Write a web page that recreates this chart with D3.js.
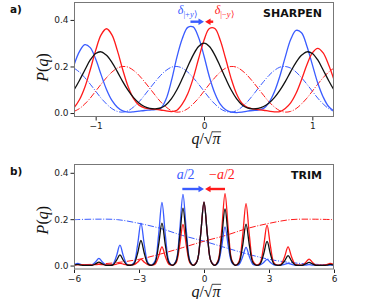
<!DOCTYPE html>
<meta charset="utf-8">
<style>
body { margin: 0; background: #fff; }
.tick text { font-family: "DejaVu Sans", sans-serif; font-size: 9px; fill: #222; }
.tick line { stroke: #222; }
.domain { display: none; }
.frame { fill: none; stroke: #777; stroke-width: 1; }
.lbl { font-family: "Liberation Serif", serif; font-size: 16px; }
.title { font-family: "DejaVu Sans", sans-serif; font-weight: bold; font-size: 11px; fill: #111; }
.panel { font-family: "DejaVu Sans", sans-serif; font-weight: bold; font-size: 10.5px; fill: #111; }
</style>
<body></body>
<script src="https://d3js.org/d3.v7.min.js"></script>
<script>
// panel a (SHARPEN)
var qA = [-1.2,-1.15,-1.1,-1.05,-1.0,-0.95,-0.9,-0.85,-0.8,-0.75,-0.7,-0.65,-0.6,-0.55,-0.5,-0.45,-0.4,-0.35,-0.3,-0.25,-0.2,-0.15,-0.1,-0.05,0,
  0.05,0.1,0.15,0.2,0.25,0.3,0.35,0.4,0.45,0.5,0.55,0.6,0.65,0.7,0.75,0.8,0.85,0.9,0.95,1.0,1.05,1.1,1.15,1.2];
var blackA = [0.099,0.14,0.185,0.228,0.256,0.263,0.248,0.218,0.178,0.135,0.097,0.066,0.043,0.028,0.02,0.018,0.022,0.036,0.062,0.1,0.148,0.2,0.249,0.286,0.3,
  0.286,0.249,0.2,0.148,0.1,0.062,0.036,0.022,0.018,0.02,0.028,0.043,0.066,0.097,0.135,0.178,0.218,0.248,0.263,0.256,0.228,0.185,0.14,0.099];
var blueA = [0.206,0.264,0.294,0.281,0.232,0.165,0.101,0.054,0.025,0.009,0.004,0.005,0.008,0.011,0.013,0.015,0.02,0.06,0.14,0.24,0.32,0.368,0.37,0.325,0.245,
  0.155,0.085,0.038,0.014,0.004,0.002,0.004,0.008,0.011,0.013,0.02,0.045,0.091,0.158,0.24,0.316,0.355,0.345,0.287,0.208,0.129,0.069,0.028,0.009];
var redA = [0.022,0.057,0.111,0.186,0.269,0.336,0.362,0.336,0.269,0.186,0.113,0.062,0.034,0.022,0.018,0.016,0.013,0.009,0.006,0.012,0.039,0.083,0.149,0.233,0.313,
  0.363,0.363,0.313,0.233,0.149,0.083,0.042,0.024,0.018,0.015,0.012,0.008,0.005,0.006,0.02,0.044,0.085,0.143,0.207,0.258,0.278,0.258,0.207,0.143];
var blueDashA = [0.193,0.176,0.152,0.124,0.094,0.064,0.039,0.019,0.007,0.004,0.01,0.026,0.048,0.076,0.106,0.135,0.162,0.183,0.197,0.2,0.193,0.176,0.152,0.124,0.094,
  0.064,0.039,0.019,0.007,0.004,0.01,0.026,0.048,0.076,0.106,0.135,0.162,0.183,0.197,0.2,0.193,0.176,0.152,0.124,0.094,0.064,0.039,0.019,0.007];
var redDashA = [0.007,0.019,0.039,0.064,0.094,0.124,0.152,0.176,0.193,0.2,0.197,0.183,0.162,0.135,0.106,0.076,0.048,0.026,0.01,0.004,0.007,0.019,0.039,0.064,0.094,
  0.124,0.152,0.176,0.193,0.2,0.197,0.183,0.162,0.135,0.106,0.076,0.048,0.026,0.01,0.004,0.007,0.019,0.039,0.064,0.094,0.124,0.152,0.176,0.193];

// panel b (TRIM)
var qB = [-6,-5.82,-5.66,-5.50,-5.34,-5.17,-5.01,-4.85,-4.69,-4.53,-4.37,-4.20,-4.04,-3.88,-3.72,-3.56,-3.40,-3.23,-3.07,-2.91,-2.75,-2.59,-2.43,-2.26,-2.10,
  -1.94,-1.78,-1.62,-1.46,-1.29,-1.13,-0.97,-0.81,-0.65,-0.49,-0.32,-0.16,0,0.16,0.32,0.49,0.65,0.81,0.97,1.13,1.29,1.46,1.62,1.78,1.94,
  2.10,2.26,2.43,2.59,2.75,2.91,3.07,3.23,3.40,3.56,3.72,3.88,4.04,4.20,4.37,4.53,4.69,4.85,5.01,5.17,5.34,5.50,5.66,5.82,6];
var blackB = [0.002,0.005,0.002,0.001,0.001,
  0.001,0.007,0.015,0.007,0.001,0.001,
  0.003,0.022,0.046,0.022,0.003,0.001,
  0.008,0.051,0.108,0.051,0.008,0.001,
  0.013,0.086,0.183,0.086,0.013,0.001,
  0.017,0.117,0.248,0.117,0.017,0.001,
  0.019,0.129,0.274,0.129,0.019,0.001,
  0.017,0.115,0.244,0.115,0.017,0.001,
  0.013,0.084,0.179,0.084,0.013,0.001,
  0.007,0.049,0.104,0.049,0.007,0.001,
  0.003,0.02,0.043,0.02,0.003,0.001,
  0.001,0.007,0.014,0.007,0.001,0.001,
  0.001,0.002,0.005,0.002];
var blueB = [0.004,0.009,0.004,0.002,0.002,
  0.003,0.015,0.031,0.015,0.003,0.002,
  0.006,0.041,0.088,0.041,0.006,0.002,
  0.013,0.086,0.183,0.086,0.013,0.002,
  0.019,0.128,0.272,0.128,0.019,0.002,
  0.021,0.144,0.307,0.144,0.021,0.002,
  0.019,0.129,0.274,0.129,0.019,0.002,
  0.012,0.078,0.167,0.078,0.012,0.002,
  0.005,0.037,0.078,0.037,0.005,0.002,
  0.003,0.013,0.027,0.013,0.003,0.002,
  0.002,0.005,0.01,0.005,0.002,0.002,
  0.002,0.002,0.004,0.002,0.002,0.002,
  0.002,0.002,0.002,0.002];
var redB = [0.004,0.004,0.004,0.003,0.003,
  0.003,0.004,0.005,0.004,0.003,0.003,
  0.003,0.006,0.01,0.006,0.003,0.003,
  0.004,0.014,0.027,0.014,0.004,0.002,
  0.006,0.038,0.081,0.038,0.006,0.002,
  0.012,0.083,0.177,0.083,0.012,0.002,
  0.019,0.129,0.274,0.129,0.019,0.002,
  0.022,0.146,0.31,0.146,0.022,0.002,
  0.019,0.125,0.267,0.125,0.019,0.002,
  0.012,0.082,0.174,0.082,0.012,0.002,
  0.006,0.038,0.081,0.038,0.006,0.002,
  0.002,0.013,0.028,0.013,0.002,0.002,
  0.002,0.004,0.009,0.004];
var qBd = [-6,-5,-4,-3,-2,-1,0,1,2,3,4,5,6];
var blueDashB = [0.198,0.2,0.198,0.182,0.16,0.13,0.105,0.077,0.05,0.027,0.013,0.006,0.003];
var redDashB = [0.003,0.006,0.013,0.027,0.05,0.077,0.105,0.13,0.16,0.182,0.198,0.2,0.198];

var xTicksA = [-1, 0, 1];
var xTicksB = [-6, -3, 0, 3, 6];
var yTicks = [0, 0.2, 0.4];

var BLUE = "#3a5cff", RED = "#ff1a1a", BLACK = "#111";

var svg = d3.select("body").append("svg")
  .attr("width", 378)
  .attr("height", 299);

function panel(opt) {
  var x = d3.scaleLinear().domain(opt.xdom).range([74, 334]);
  var y = d3.scaleLinear().domain(opt.ydom).range([opt.bottom, opt.top]);
  var g = svg.append("g");

  g.append("clipPath").attr("id", opt.id)
    .append("rect")
      .attr("x", 74).attr("y", opt.top)
      .attr("width", 260).attr("height", opt.bottom - opt.top);

  var plot = g.append("g").attr("clip-path", "url(#" + opt.id + ")");
  var line = d3.line().curve(opt.curve)
    .x(function(d) { return x(d[0]); })
    .y(function(d) { return y(d[1]); });

  opt.series.forEach(function(s) {
    plot.append("path")
      .datum(d3.zip(s.q, s.v))
      .attr("d", line)
      .attr("fill", "none")
      .attr("stroke", s.color)
      .attr("stroke-width", s.dash ? 1 : 1.3)
      .attr("stroke-dasharray", s.dash ? "6.4,1.6,1,1.6" : null);
  });

  g.append("g")
    .attr("transform", "translate(0," + opt.bottom + ")")
    .call(d3.axisBottom(x).tickValues(opt.xticks).tickSize(3.5).tickPadding(2.5).tickFormat(d3.format("d")));
  g.append("g")
    .attr("transform", "translate(74,0)")
    .call(d3.axisLeft(y).tickValues(yTicks).tickSize(3.5).tickPadding(2).tickFormat(d3.format(".1f")));

  g.append("rect").attr("class", "frame")
    .attr("x", 74.5).attr("y", opt.top + 0.5)
    .attr("width", 259).attr("height", opt.bottom - opt.top - 1);

  // y label P(q)
  var yl = g.append("text").attr("class", "lbl").style("fill", "#111")
    .attr("text-anchor", "middle")
    .attr("transform", "translate(48," + (y(0.2) + 1) + ") rotate(-90)");
  yl.append("tspan").style("font-style", "italic").text("P");
  yl.append("tspan").text("(");
  yl.append("tspan").style("font-style", "italic").text("q");
  yl.append("tspan").text(")");

  // x label q/sqrt(pi)
  var xl = g.append("text").attr("class", "lbl").style("fill", "#111")
    .attr("x", x(0) + 2).attr("y", opt.bottom + 27)
    .attr("text-anchor", "middle");
  xl.append("tspan").style("font-style", "italic").text("q");
  xl.append("tspan").text("/√");
  xl.append("tspan").style("font-style", "italic").text("π");
  var e = xl.node().getExtentOfChar(3);
  g.append("line")
    .attr("x1", e.x - 0.5).attr("x2", e.x + e.width + 0.5)
    .attr("y1", opt.bottom + 27 - 12.2).attr("y2", opt.bottom + 27 - 12.2)
    .attr("stroke", "#111").attr("stroke-width", 0.8);

  g.append("text").attr("class", "title")
    .attr("x", 322).attr("y", opt.top + 15)
    .attr("text-anchor", "end")
    .text(opt.title);

  g.append("text").attr("class", "panel")
    .attr("x", 10).attr("y", opt.top + 10.5)
    .text(opt.letter);

  // arrows
  opt.arrows.forEach(function(a) {
    var x0 = x(a.from), x1 = x(a.to), yy = opt.top + a.dy;
    var dir = x1 > x0 ? 1 : -1;
    g.append("line")
      .attr("x1", x0).attr("x2", x1 - dir * 4)
      .attr("y1", yy).attr("y2", yy)
      .attr("stroke", a.color).attr("stroke-width", 2.4);
    g.append("path")
      .attr("d", "M" + x1 + "," + yy + "L" + (x1 - dir * 5.5) + "," + (yy - 3.2) + "L" + (x1 - dir * 5.5) + "," + (yy + 3.2) + "Z")
      .attr("fill", a.color);
  });

  return { x: x, y: y, g: g };
}

var pa = panel({
  id: "clipA", xdom: [-1.2, 1.2], ydom: [-0.017, 0.477], top: 2, bottom: 117,
  xticks: xTicksA, title: "SHARPEN", letter: "a)", curve: d3.curveCatmullRom,
  series: [
    { q: qA, v: blueDashA, color: BLUE, dash: true },
    { q: qA, v: redDashA, color: RED, dash: true },
    { q: qA, v: blueA, color: BLUE },
    { q: qA, v: redA, color: RED },
    { q: qA, v: blackA, color: BLACK }
  ],
  arrows: [
    { from: -0.125, to: 0, color: BLUE, dy: 19.7 },
    { from: 0.085, to: 0.01, color: RED, dy: 19.7 }
  ]
});

var pb = panel({
  id: "clipB", xdom: [-6, 6], ydom: [-0.017, 0.438], top: 164, bottom: 269.5,
  xticks: xTicksB, title: "TRIM", letter: "b)", curve: d3.curveCatmullRom,
  series: [
    { q: qBd, v: blueDashB, color: BLUE, dash: true },
    { q: qBd, v: redDashB, color: RED, dash: true },
    { q: qB, v: blueB, color: BLUE },
    { q: qB, v: redB, color: RED },
    { q: qB, v: blackB, color: BLACK }
  ],
  arrows: [
    { from: -1.0, to: 0, color: BLUE, dy: 25 },
    { from: 0.97, to: 0.05, color: RED, dy: 25 }
  ]
});

// delta labels (panel a)
function delta(g, cx, sub, color) {
  var t = g.append("text").attr("class", "lbl")
    .attr("x", cx).attr("y", 14)
    .attr("text-anchor", "middle")
    .style("font-size", "12px")
    .style("fill", color);
  t.append("tspan").style("font-style", "italic").text("δ");
  t.append("tspan").attr("dy", 3).style("font-size", "8.5px").text("|" + sub);
  t.append("tspan").style("font-size", "8.5px").style("font-style", "italic").text("y");
  t.append("tspan").style("font-size", "8.5px").text("⟩");
}
delta(pa.g, pa.x(-0.15), "+", BLUE);
delta(pa.g, pa.x(0.19), "−", RED);

// a/2 labels (panel b)
function half(g, cx, sign, color) {
  var t = g.append("text").attr("class", "lbl")
    .attr("x", cx).attr("y", 178.5)
    .attr("text-anchor", "middle")
    .style("font-size", "14px")
    .style("fill", color);
  if (sign) t.append("tspan").text(sign);
  t.append("tspan").style("font-style", "italic").text("a");
  t.append("tspan").text("/2");
}
half(pb.g, pb.x(-0.85), "", BLUE);
half(pb.g, pb.x(0.83), "−", RED);
</script>
